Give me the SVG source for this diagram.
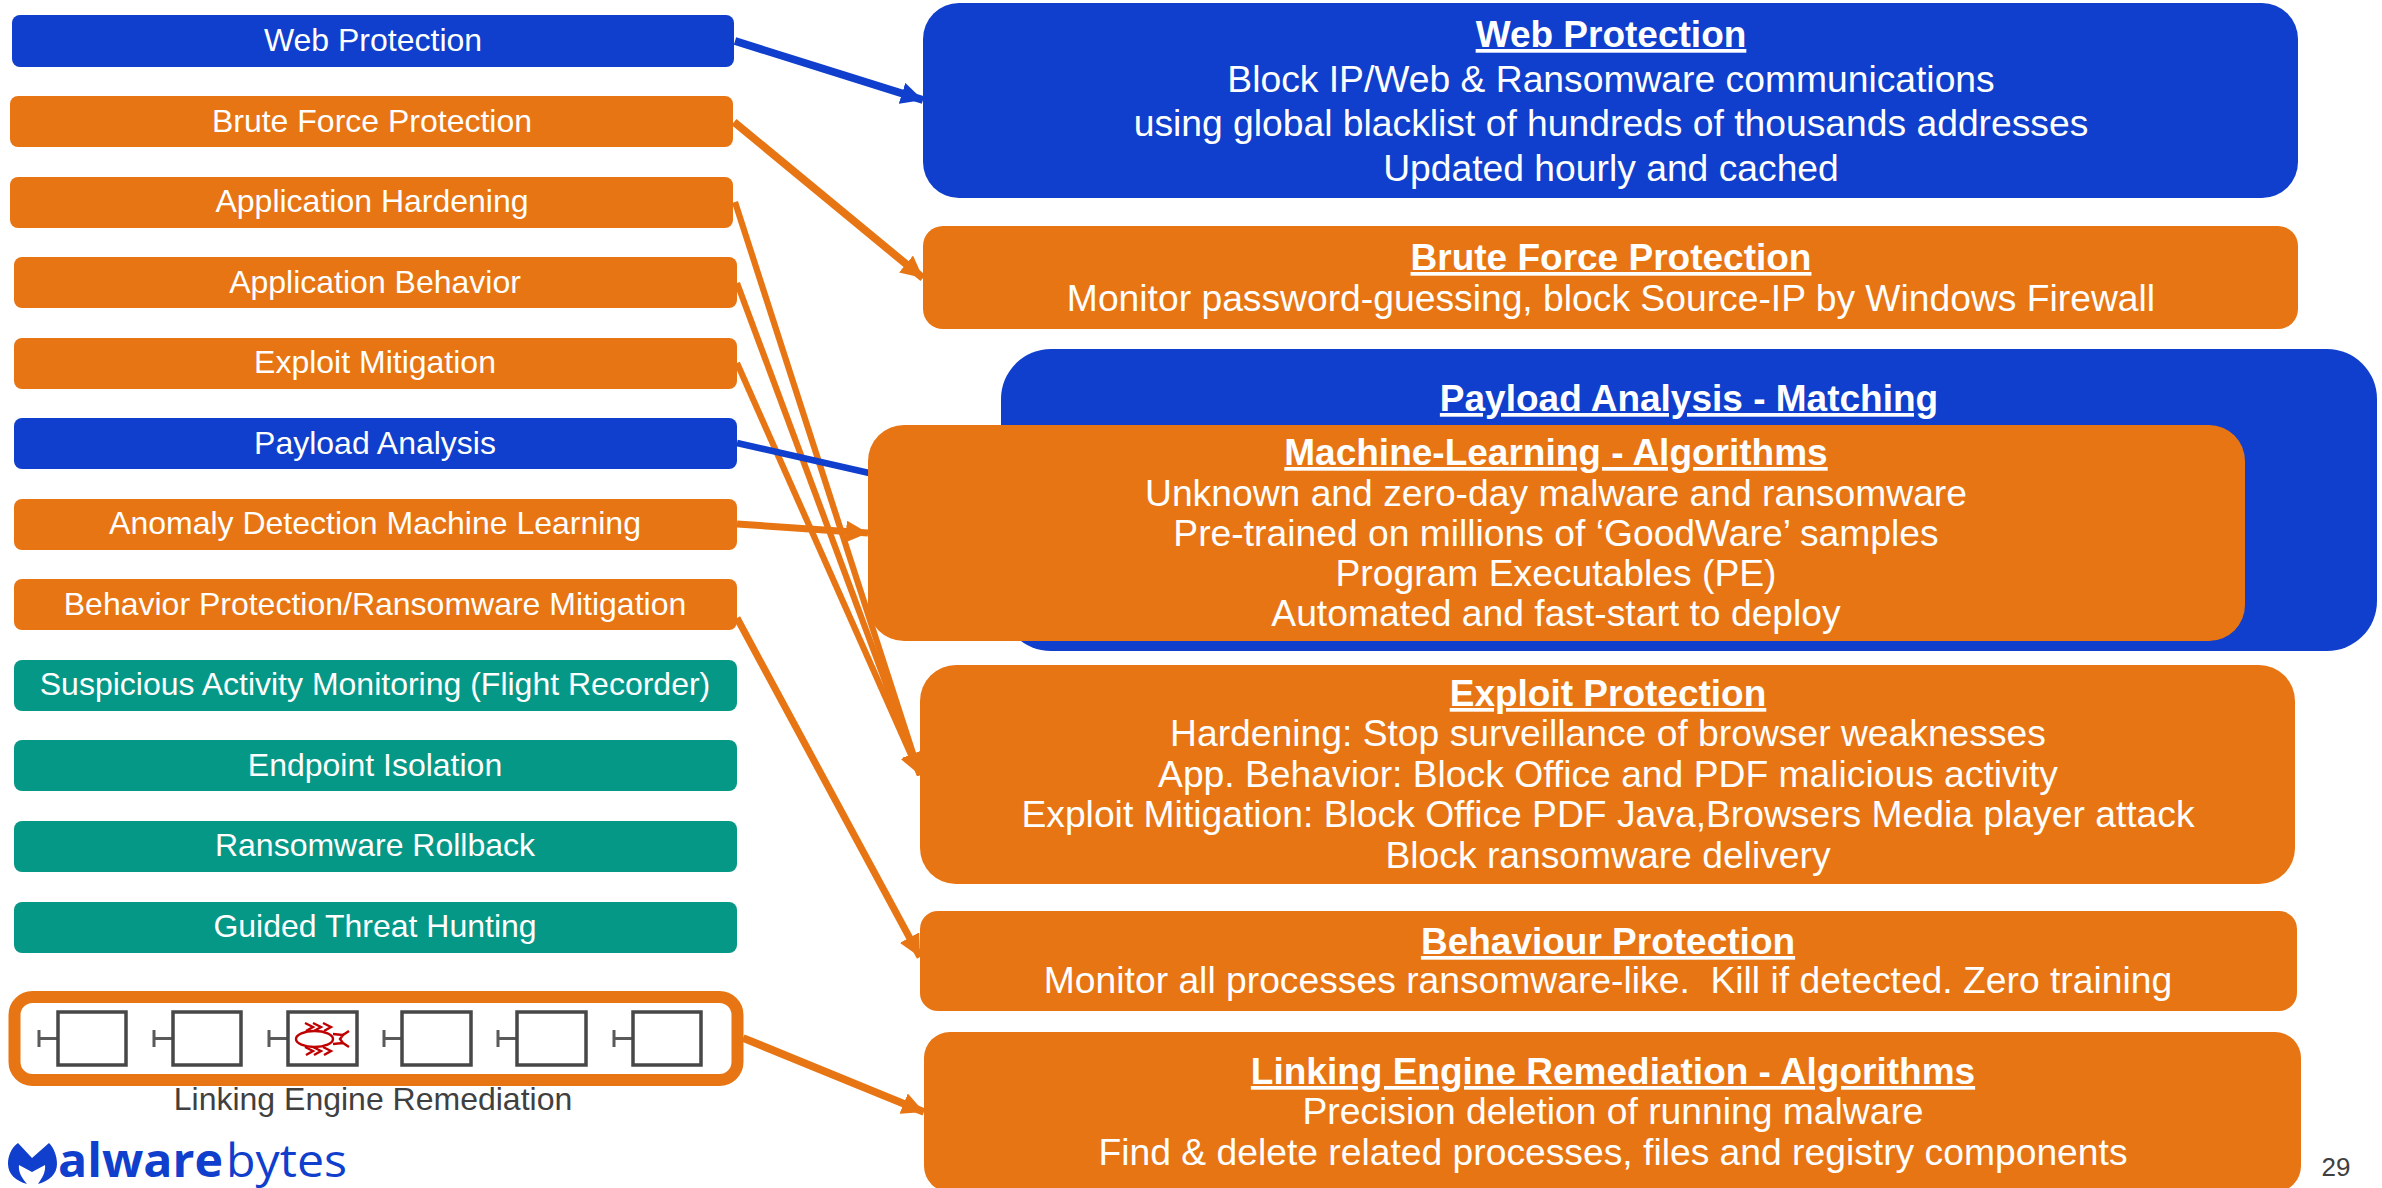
<svg xmlns="http://www.w3.org/2000/svg" width="2382" height="1188" viewBox="0 0 2382 1188">
<style>
text{font-family:"Liberation Sans",Arial,sans-serif;fill:#fff;text-anchor:middle;white-space:pre}
.o{fill:#E87513}.b{fill:#0F3FCC}.t{fill:#069887}
.l{font-size:32px}
.h{font-size:37px;font-weight:bold;text-decoration:underline}
.d{font-size:37.25px}
.co{stroke:#E87513;stroke-width:6.2;fill:none;marker-end:url(#ao)}
.cb{stroke:#0F3FCC;stroke-width:6.7;fill:none;marker-end:url(#ab)}
.w{stroke-width:7.8}
.sq{fill:#fff;stroke:#474747;stroke-width:3.5}
.st{fill:none;stroke:#5a5a5a;stroke-width:3}
.bug{fill:none;stroke:#C00000;stroke-width:2.4}
.logo{font-family:"Open Sans",sans-serif;font-size:46px;fill:#0F3FCC;text-anchor:start}
</style>
<defs>
<marker id="ao" markerUnits="userSpaceOnUse" markerWidth="22" markerHeight="22" refX="22" refY="11" orient="auto"><path d="M0 0L22 11L0 22z" fill="#E87513"/></marker>
<marker id="ab" markerUnits="userSpaceOnUse" markerWidth="22" markerHeight="22" refX="22" refY="11" orient="auto"><path d="M0 0L22 11L0 22z" fill="#0F3FCC"/></marker>
</defs>
<rect width="2382" height="1188" fill="#fff"/>
<g id="connectors">
<line class="cb w" x1="735" y1="41" x2="923" y2="100"/>
<line class="co w" x1="734" y1="122" x2="923" y2="278"/>
<line class="co" x1="735" y1="202" x2="920" y2="775"/>
<line class="co" x1="737" y1="283" x2="920" y2="775"/>
<line class="co" x1="737" y1="363" x2="920" y2="775"/>
<line class="cb" x1="737" y1="443" x2="1001" y2="503"/>
<line class="co" style="stroke-width:7" x1="737" y1="524" x2="868" y2="533"/>
<line class="co" style="stroke-width:7" x1="737" y1="618" x2="920" y2="957"/>
<line class="co w" x1="743" y1="1038" x2="924" y2="1112"/>
</g>
<g id="n-web"><rect class="b" x="12" y="15" width="722" height="52" rx="8"/><text class="l" x="373" y="51">Web Protection</text></g>
<g id="n-brute"><rect class="o" x="10" y="96" width="723" height="51" rx="8"/><text class="l" x="372" y="132">Brute Force Protection</text></g>
<g id="n-hardening"><rect class="o" x="10" y="177" width="723" height="51" rx="8"/><text class="l" x="372" y="212">Application Hardening</text></g>
<g id="n-behavior"><rect class="o" x="14" y="257" width="723" height="51" rx="8"/><text class="l" x="375" y="293">Application Behavior</text></g>
<g id="n-exploit"><rect class="o" x="14" y="338" width="723" height="51" rx="8"/><text class="l" x="375" y="373">Exploit Mitigation</text></g>
<g id="n-payload"><rect class="b" x="14" y="418" width="723" height="51" rx="8"/><text class="l" x="375" y="454">Payload Analysis</text></g>
<g id="n-anomaly"><rect class="o" x="14" y="499" width="723" height="51" rx="8"/><text class="l" x="375" y="534">Anomaly Detection Machine Learning</text></g>
<g id="n-ransom"><rect class="o" x="14" y="579" width="723" height="51" rx="8"/><text class="l" x="375" y="615">Behavior Protection/Ransomware Mitigation</text></g>
<g id="n-suspicious"><rect class="t" x="14" y="660" width="723" height="51" rx="8"/><text class="l" x="375" y="695">Suspicious Activity Monitoring (Flight Recorder)</text></g>
<g id="n-isolation"><rect class="t" x="14" y="740" width="723" height="51" rx="8"/><text class="l" x="375" y="776">Endpoint Isolation</text></g>
<g id="n-rollback"><rect class="t" x="14" y="821" width="723" height="51" rx="8"/><text class="l" x="375" y="856">Ransomware Rollback</text></g>
<g id="n-hunting"><rect class="t" x="14" y="902" width="723" height="51" rx="8"/><text class="l" x="375" y="937">Guided Threat Hunting</text></g>
<g id="n-linking-left">
<rect x="14.500" y="997" width="723" height="83" rx="18" fill="#fff" stroke="#E87513" stroke-width="12"/>
<g class="st"><path d="M39 1030v17M39 1038.500h19M154 1030v17M154 1038.500h19M269 1030v17M269 1038.500h19M384 1030v17M384 1038.500h19M498 1030v17M498 1038.500h19M614 1030v17M614 1038.500h19"/></g>
<rect class="sq" x="58" y="1012" width="68" height="53"/>
<rect class="sq" x="173" y="1012" width="68" height="53"/>
<rect class="sq" x="288" y="1012" width="69" height="53"/>
<rect class="sq" x="402" y="1012" width="69" height="53"/>
<rect class="sq" x="517" y="1012" width="69" height="53"/>
<rect class="sq" x="633" y="1012" width="68" height="53"/>
<g class="bug"><ellipse cx="314.500" cy="1039" rx="18.500" ry="8"/><path d="M333 1034l10 1-3 4 3 4-10 1M343 1035l6-4M343 1043l6 4M305 1023l8 4-7 4M313 1023l8 4-7 4M323 1023l8 4-7 4M305 1047l8 4-7 4M313 1047l8 4-7 4M323 1047l8 4-7 4"/></g>
<text x="373" y="1110" style="font-size:32px;fill:#404040">Linking Engine Remediation</text>
</g>
<g id="logo">
<path fill="#0F3FCC" d="M18 1143C11 1148 8 1156 8 1164C8 1174 16 1181 27 1184C22 1178 18 1172 19 1165L32 1172L45 1165C46 1172 42 1178 38 1184C49 1181 57 1174 57 1164C57 1156 54 1148 49 1143L32 1158Z"/>
<text class="logo" x="58" y="1177" font-weight="700" textLength="165" lengthAdjust="spacingAndGlyphs">alware</text>
<text class="logo" x="226" y="1177" font-weight="400" textLength="121" lengthAdjust="spacingAndGlyphs">bytes</text>
</g>
<g id="r-web"><rect class="b" x="923" y="3" width="1375" height="195" rx="36"/>
<text class="h" x="1611" y="47">Web Protection</text>
<text class="d" x="1611" y="92">Block IP/Web &amp; Ransomware communications</text>
<text class="d" x="1611" y="136">using global blacklist of hundreds of thousands addresses</text>
<text class="d" x="1611" y="181">Updated hourly and cached</text></g>
<g id="r-brute"><rect class="o" x="923" y="226" width="1375" height="103" rx="20"/>
<text class="h" x="1611" y="270">Brute Force Protection</text>
<text class="d" x="1611" y="311">Monitor password-guessing, block Source-IP by Windows Firewall</text></g>
<g id="r-payload"><rect class="b" x="1001" y="349" width="1376" height="302" rx="50"/>
<text class="h" x="1689" y="411">Payload Analysis - Matching</text></g>
<g id="r-ml"><rect class="o" x="868" y="425" width="1377" height="216" rx="36"/>
<text class="h" x="1556" y="465">Machine-Learning - Algorithms</text>
<text class="d" x="1556" y="506">Unknown and zero-day malware and ransomware</text>
<text class="d" x="1556" y="546">Pre-trained on millions of ‘GoodWare’ samples</text>
<text class="d" x="1556" y="586">Program Executables (PE)</text>
<text class="d" x="1556" y="626">Automated and fast-start to deploy</text></g>
<g id="r-exploit"><rect class="o" x="920" y="665" width="1375" height="219" rx="36"/>
<text class="h" x="1608" y="706">Exploit Protection</text>
<text class="d" x="1608" y="746">Hardening: Stop surveillance of browser weaknesses</text>
<text class="d" x="1608" y="787">App. Behavior: Block Office and PDF malicious activity</text>
<text class="d" x="1608" y="827">Exploit Mitigation: Block Office PDF Java,Browsers Media player attack</text>
<text class="d" x="1608" y="868">Block ransomware delivery</text></g>
<g id="r-behaviour"><rect class="o" x="920" y="911" width="1377" height="100" rx="18"/>
<text class="h" x="1608" y="954">Behaviour Protection</text>
<text class="d" x="1608" y="993">Monitor all processes ransomware-like.  Kill if detected. Zero training</text></g>
<g id="r-linking"><rect class="o" x="924" y="1032" width="1377" height="160" rx="26"/>
<text class="h" x="1613" y="1084">Linking Engine Remediation - Algorithms</text>
<text class="d" x="1613" y="1124">Precision deletion of running malware</text>
<text class="d" x="1613" y="1165">Find &amp; delete related processes, files and registry components</text></g>
<text id="page" x="2336" y="1176" style="font-size:26px;fill:#404040">29</text>
</svg>
